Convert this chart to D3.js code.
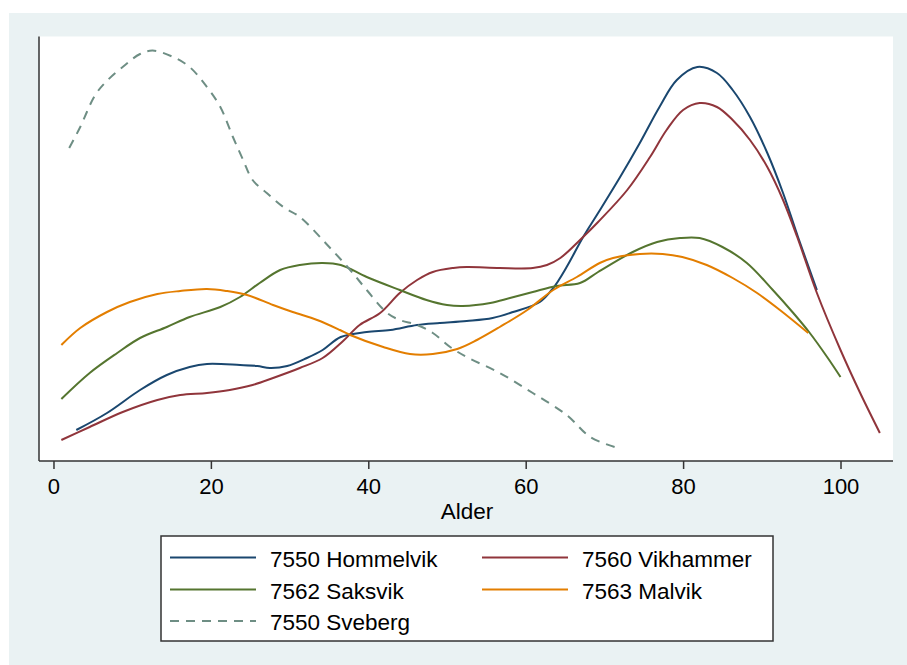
<!DOCTYPE html>
<html>
<head>
<meta charset="utf-8">
<script src="https://cdn.jsdelivr.net/npm/d3@7"></script>
<style>
  html, body { margin: 0; padding: 0; background: #ffffff; }
  svg { display: block; }
  text { font-family: "Liberation Sans", Arial, Helvetica, sans-serif; fill: #000; }
</style>
</head>
<body>
<svg id="chart" width="907" height="665"></svg>
<script>
// ---- Data (age, kernel density; y in relative units) ----
const hommelvikAge = [2.9, 6.8, 11, 14.4, 17.3, 19.5, 23.7, 25.9, 27.5, 29.7, 32.2, 34.2, 36.5, 39.8, 42.8, 46.2, 49.1, 52.5, 55.8, 58.4, 61.8, 63.5, 65.2, 67.3, 69.2, 72, 74.5, 77, 79.2, 81.8, 84.3, 86.3, 88.5, 90.7, 92.7, 94.6, 97];
const hommelvikVal = [1.55, 2.40, 3.55, 4.30, 4.70, 4.85, 4.80, 4.75, 4.65, 4.75, 5.15, 5.55, 6.20, 6.45, 6.55, 6.80, 6.90, 7.00, 7.15, 7.45, 7.95, 8.65, 9.70, 11.20, 12.40, 14.20, 15.90, 17.70, 19.05, 19.70, 19.40, 18.55, 17.20, 15.40, 13.40, 11.20, 8.55];

const vikhammerAge = [1.0, 4.6, 8.8, 13.2, 16.1, 19.5, 22.4, 25.3, 27.9, 31.3, 34.2, 36.8, 38.9, 41.5, 44, 46.2, 48.2, 50.8, 52.5, 56.7, 60.9, 62.7, 64.4, 66.9, 69.2, 72.9, 75.8, 77.9, 80, 82.1, 84.3, 86.3, 88.5, 90.7, 92.7, 94.5, 97, 100, 102.5, 105];
const vikhammerVal = [1.05, 1.70, 2.45, 3.05, 3.30, 3.40, 3.55, 3.80, 4.15, 4.65, 5.15, 6.00, 6.80, 7.40, 8.40, 9.05, 9.45, 9.65, 9.70, 9.65, 9.65, 9.80, 10.15, 11.05, 11.95, 13.55, 15.20, 16.55, 17.55, 17.90, 17.70, 17.05, 16.05, 14.70, 13.05, 11.20, 8.40, 5.55, 3.40, 1.40];

const saksvikAge = [1.0, 4.6, 8.1, 11, 14.4, 17.3, 21.2, 23.7, 26.2, 28.8, 31.3, 34.2, 36.5, 39.8, 44, 47.4, 50, 52, 55.5, 58, 60.9, 63.9, 66.9, 69.2, 73.6, 76.7, 79.6, 82.1, 85, 88.1, 91.4, 94, 96.1, 98.3, 100];
const saksvikVal = [3.10, 4.40, 5.40, 6.15, 6.70, 7.20, 7.70, 8.20, 8.90, 9.55, 9.80, 9.90, 9.80, 9.20, 8.55, 8.05, 7.80, 7.75, 7.90, 8.15, 8.45, 8.75, 8.90, 9.45, 10.45, 10.95, 11.15, 11.15, 10.70, 9.90, 8.55, 7.40, 6.40, 5.20, 4.20];

const malvikAge = [1.0, 3.4, 6.8, 9.7, 13.2, 16.1, 19.5, 22, 24.6, 27.9, 30.4, 33.5, 36.4, 37.7, 41.9, 45.3, 48.2, 51.3, 53.8, 56.7, 60.2, 63.5, 66.5, 69.4, 71.1, 74.5, 77.4, 79.9, 83, 86.3, 89.4, 92.3, 95.9];
const malvikVal = [5.80, 6.65, 7.45, 7.95, 8.35, 8.50, 8.60, 8.50, 8.30, 7.80, 7.45, 7.05, 6.55, 6.30, 5.70, 5.35, 5.35, 5.60, 6.05, 6.70, 7.55, 8.55, 9.20, 9.90, 10.15, 10.35, 10.35, 10.20, 9.80, 9.15, 8.40, 7.55, 6.40];

const svebergAge = [2.0, 3.4, 5.3, 6.9, 9.1, 11, 12.6, 15.2, 17.3, 19.5, 21.2, 22.8, 24.1, 25.3, 27.1, 29.2, 31.3, 34.8, 37.7, 39.8, 42.4, 44, 46.2, 48.2, 50.4, 52.5, 56.7, 60.9, 65.2, 68.2, 71.3];
const svebergVal = [15.65, 16.70, 18.30, 19.05, 19.80, 20.35, 20.52, 20.20, 19.70, 18.70, 17.70, 16.20, 15.05, 14.05, 13.40, 12.70, 12.20, 10.80, 9.55, 8.55, 7.40, 7.05, 6.80, 6.40, 5.70, 5.20, 4.40, 3.40, 2.30, 1.20, 0.70];

const seriesNames = ["7550 Hommelvik", "7560 Vikhammer", "7562 Saksvik", "7563 Malvik", "7550 Sveberg"];
const xTicks = [0, 20, 40, 60, 80, 100];
const xTitle = "Alder";

// ---- Layout / style ----
const W = 907, H = 665;
const plot = { left: 39, right: 893, top: 36.5, bottom: 461 };
const xDomain = [-1.84, 106.67];
const yDomain = [0, 21.225];

const colors = ["#1a476f", "#90353b", "#55752f", "#e37e00", "#6e8e84"];
const dashes = [null, null, null, null, "9,7"];

const svg = d3.select("#chart");

// graph region background
svg.append("rect").attr("x", 9).attr("y", 13).attr("width", W - 9).attr("height", H - 13).attr("fill", "#eaf2f3");
// plot region
svg.append("rect").attr("x", plot.left).attr("y", plot.top)
  .attr("width", plot.right - plot.left).attr("height", plot.bottom - plot.top).attr("fill", "#ffffff");

const x = d3.scaleLinear().domain(xDomain).range([plot.left, plot.right]);
const y = d3.scaleLinear().domain(yDomain).range([plot.bottom, plot.top]);

const series = [
  { name: seriesNames[0], age: hommelvikAge, val: hommelvikVal },
  { name: seriesNames[1], age: vikhammerAge, val: vikhammerVal },
  { name: seriesNames[2], age: saksvikAge, val: saksvikVal },
  { name: seriesNames[3], age: malvikAge, val: malvikVal },
  { name: seriesNames[4], age: svebergAge, val: svebergVal }
];

const line = d3.line()
  .x(d => x(d[0]))
  .y(d => y(d[1]))
  .curve(d3.curveCatmullRom.alpha(0.5));

const gLines = svg.append("g");
series.forEach((s, i) => {
  const pts = s.age.map((a, j) => [a, s.val[j]]);
  gLines.append("path")
    .attr("d", line(pts))
    .attr("fill", "none")
    .attr("stroke", colors[i])
    .attr("stroke-width", 2)
    .attr("stroke-linejoin", "round")
    .attr("stroke-dasharray", dashes[i]);
});

// y axis line (no ticks)
svg.append("line").attr("x1", plot.left).attr("x2", plot.left)
  .attr("y1", plot.top).attr("y2", plot.bottom)
  .attr("stroke", "#333").attr("stroke-width", 1.5);

// x axis
const xAxis = d3.axisBottom(x).tickValues(xTicks).tickSize(8).tickPadding(9).tickSizeOuter(0);
const gx = svg.append("g").attr("transform", `translate(0,${plot.bottom})`).call(xAxis);
gx.select(".domain").attr("stroke", "#333").attr("stroke-width", 1.5)
  .attr("d", `M${plot.left},0H${plot.right}`);
gx.selectAll(".tick line").attr("stroke", "#333").attr("stroke-width", 1.5);
gx.selectAll(".tick text")
  .style("font-family", '"Liberation Sans", Arial, sans-serif')
  .style("font-size", "22px").attr("fill", "#000");

svg.append("text").attr("x", 467).attr("y", 519)
  .attr("text-anchor", "middle").style("font-size", "22.5px").text(xTitle);

// legend
const lg = svg.append("g");
lg.append("rect").attr("x", 161).attr("y", 536).attr("width", 612).attr("height", 105)
  .attr("fill", "#ffffff").attr("stroke", "#333").attr("stroke-width", 1.5);
const colX = [170, 482];
const rowY = [557.5, 589.5, 621];
series.forEach((s, i) => {
  const cx = colX[i % 2];
  const ry = rowY[Math.floor(i / 2)];
  lg.append("line").attr("x1", cx).attr("x2", cx + 86).attr("y1", ry).attr("y2", ry)
    .attr("stroke", colors[i]).attr("stroke-width", 2)
    .attr("stroke-dasharray", dashes[i]);
  lg.append("text").attr("x", cx + 100).attr("y", ry + 9)
    .style("font-size", "22.5px").text(s.name);
});
</script>
</body>
</html>
